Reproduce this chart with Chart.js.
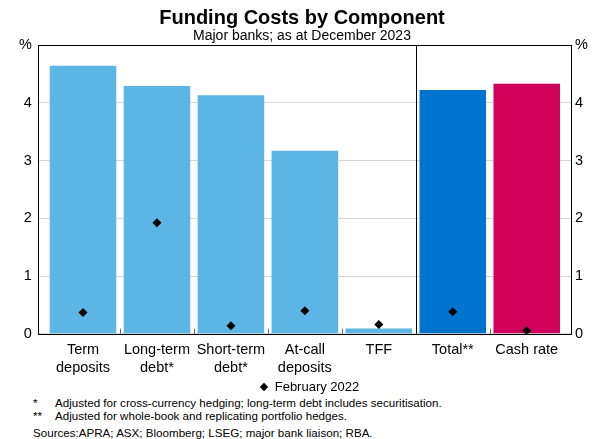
<!DOCTYPE html>
<html>
<head>
<meta charset="utf-8">
<script src="https://cdn.jsdelivr.net/npm/chart.js@4.4.1/dist/chart.umd.min.js"></script>
<style>
  body { margin: 0; background: #fff; font-family: "Liberation Sans", Arial, sans-serif; color: #000; }
  #wrap { width: 598px; height: 392px; position: relative; }
  #head { position: absolute; left: 6px; top: 0; width: 592px; text-align: center; }
  #head .t { font-size: 20px; font-weight: bold; line-height: 22px; margin-top: 6px; }
  #head .s { font-size: 14px; line-height: 15px; }
  #key { position: absolute; left: 16px; width: 588px; top: 379px; text-align: center; font-size: 13px; line-height: 16px; }
  #key i { display: inline-block; width: 6px; height: 6px; background: #000; transform: rotate(45deg); margin-right: 8px; vertical-align: 1px; }
  .notes { font-size: 11.6px; margin-left: 33px; margin-top: 4px; line-height: 13px; }
  .notes div span { display: inline-block; width: 22px; }
  .src { margin-top: 4px; }
</style>
</head>
<body>
<div id="wrap">
  <canvas id="c"></canvas>
  <div id="head">
    <div class="t">Funding Costs by Component</div>
    <div class="s">Major banks; as at December 2023</div>
  </div>
  <div id="key"><i></i>February 2022</div>
</div>
<div class="notes">
  <div><span>*</span>Adjusted for cross-currency hedging; long-term debt includes securitisation.</div>
  <div><span>**</span>Adjusted for whole-book and replicating portfolio hedges.</div>
  <div class="src">Sources:APRA; ASX; Bloomberg; LSEG; major bank liaison; RBA.</div>
</div>
<script>
const categories = [["Term", "deposits"], ["Long-term", "debt*"], ["Short-term", "debt*"], ["At-call", "deposits"], "TFF", "Total**", "Cash rate"];
const dec2023 = [4.64, 4.29, 4.13, 3.17, 0.09, 4.22, 4.33];
const feb2022 = [0.37, 1.92, 0.14, 0.40, 0.16, 0.38, 0.05];
const barColours = ["#5BB5E5", "#5BB5E5", "#5BB5E5", "#5BB5E5", "#5BB5E5", "#0073CF", "#D1005A"];
const yTicks = [0, 1, 2, 3, 4, 5];

const font = "'Liberation Sans', Arial, sans-serif";

// frame, divider and the little boundary ticks on the bottom axis
const framePlugin = {
  id: "frame",
  afterDatasetsDraw(chart) {
    const { ctx, chartArea: a, scales: { x } } = chart;
    ctx.save();
    ctx.strokeStyle = "#000";
    ctx.lineWidth = 1;
    ctx.strokeRect(Math.round(a.left) + 0.5, Math.round(a.top) + 0.5, Math.round(a.right - a.left), Math.round(a.bottom - a.top));
    const d = Math.round(x.getPixelForValue(4.5)) + 0.5;
    ctx.beginPath();
    ctx.moveTo(d, a.top);
    ctx.lineTo(d, a.bottom);
    ctx.stroke();
    ctx.strokeStyle = "#666";
    [0.5, 1.5, 2.5, 3.5, 5.5].forEach(v => {
      const px = Math.round(x.getPixelForValue(v)) + 0.5;
      ctx.beginPath();
      ctx.moveTo(px, a.bottom);
      ctx.lineTo(px, a.bottom - 5);
      ctx.stroke();
    });
    ctx.restore();
  }
};

const yAxis = (pos) => ({
  type: "linear",
  position: pos,
  min: 0,
  max: 5,
  afterBuildTicks: s => { s.ticks = yTicks.map(v => ({ value: v })); },
  ticks: {
    color: "#000",
    font: { family: font, size: 14.5 },
    padding: pos === "left" ? 6 : 4,
    callback: v => v === 5 ? "%" : v
  },
  grid: { display: pos === "left", color: "#d6d6d6", drawTicks: false },
  border: { display: false }
});

new Chart(document.getElementById("c"), {
  data: {
    datasets: [
      {
        type: "scatter",
        label: "February 2022",
        data: feb2022.map((v, i) => ({ x: i, y: v })),
        pointStyle: "rectRot",
        radius: 4.5,
        hoverRadius: 4.5,
        backgroundColor: "#000",
        borderColor: "#000",
        borderWidth: 0,
        yAxisID: "y"
      },
      {
        type: "bar",
        label: "December 2023",
        data: dec2023.map((v, i) => ({ x: i, y: v })),
        backgroundColor: barColours,
        barPercentage: 0.9,
        categoryPercentage: 1,
        yAxisID: "y"
      }
    ]
  },
  options: {
    responsive: true,
    maintainAspectRatio: false,
    animation: false,
    layout: { padding: { left: 13, right: 6, top: 45, bottom: 8 } },
    scales: {
      x: {
        type: "linear",
        offset: false,
        min: -0.61,
        max: 6.6,
        afterBuildTicks: s => { s.ticks = categories.map((c, i) => ({ value: i })); },
        ticks: {
          color: "#000",
          font: { family: font, size: 14.5, lineHeight: 1.25 },
          padding: 7,
          maxRotation: 0,
          autoSkip: false,
          callback: v => categories[v]
        },
        grid: { display: false, drawTicks: false, offset: false },
        border: { display: false }
      },
      y: yAxis("left"),
      y2: yAxis("right")
    },
    plugins: {
      legend: { display: false },
      tooltip: { enabled: false }
    }
  },
  plugins: [framePlugin]
});
</script>
</body>
</html>
